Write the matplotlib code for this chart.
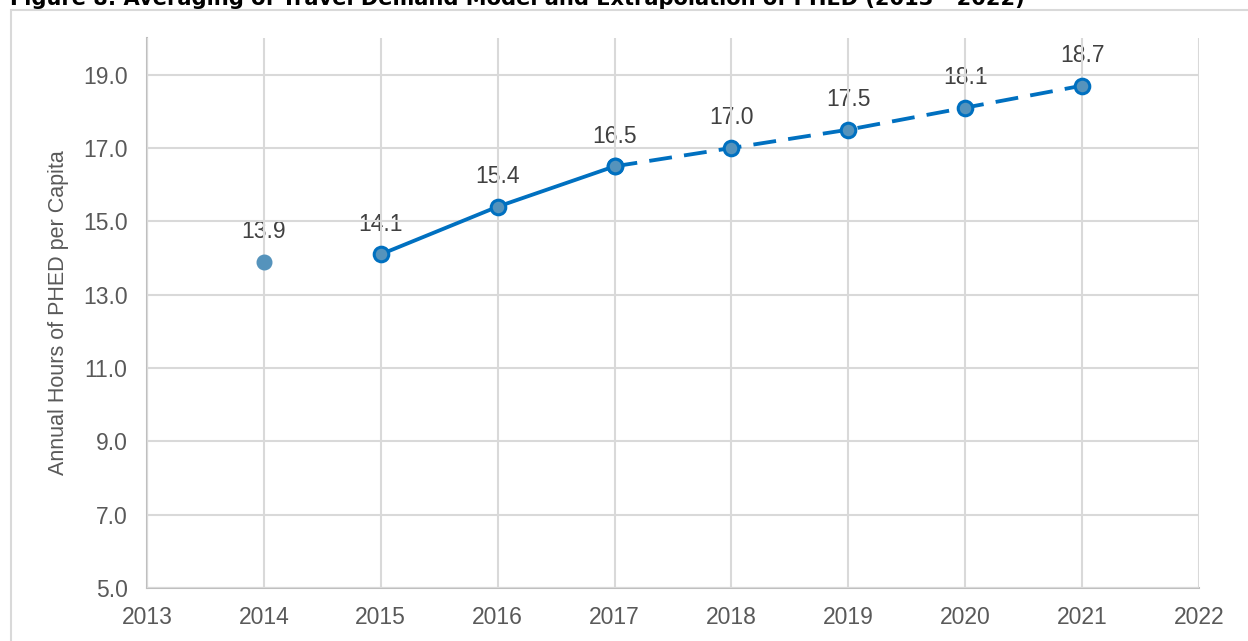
import matplotlib
matplotlib.use('Agg')
import matplotlib.pyplot as plt
from matplotlib.patches import Rectangle

# data
years_model = [2014]
phed_model = [13.9]
years_solid = [2015, 2016, 2017]
phed_solid = [14.1, 15.4, 16.5]
years_extrap = [2017, 2018, 2019, 2020, 2021]
phed_extrap = [16.5, 17.0, 17.5, 18.1, 18.7]
label_years = [2014, 2015, 2016, 2017, 2018, 2019, 2020, 2021]
label_values = [13.9, 14.1, 15.4, 16.5, 17.0, 17.5, 18.1, 18.7]
x_ticks = list(range(2013, 2023))
y_ticks = [5.0, 7.0, 9.0, 11.0, 13.0, 15.0, 17.0, 19.0]

plt.rcParams['font.family'] = ['Liberation Sans', 'DejaVu Sans']

blue = '#0070c0'
fill = '#5593bc'

fig = plt.figure(figsize=(12.48, 6.41), dpi=100, facecolor='white')

# outer chart frame, cut off at right and bottom like the source
fig.patches.append(Rectangle((11 / 1248, -0.05), 1.1, 1 - 10 / 641 + 0.05,
                             transform=fig.transFigure, fill=False,
                             edgecolor='#d9d9d9', linewidth=1.5))

# title sits mostly above the visible area (cropped in the source too)
fig.text(10 / 1248, 1 - 5 / 641, 'Figure 8: Averaging of Travel Demand Model and Extrapolation of PHED (2013 - 2022)',
         fontsize=15.1, fontweight='bold', family='DejaVu Sans', color='black', va='baseline', ha='left')

ax = fig.add_axes([147 / 1248, 1 - 588 / 641, 1052 / 1248, 550 / 641])
ax.set_xlim(2013, 2022)
ax.set_ylim(5, 20)
ax.set_xticks(x_ticks)
ax.set_yticks(y_ticks)
ax.set_xticklabels([str(x) for x in x_ticks])
ax.set_yticklabels(['{:.1f}'.format(y) for y in y_ticks])
ax.tick_params(length=0, labelsize=16.5, labelcolor='#595959')
ax.tick_params(axis='x', pad=13)
ax.tick_params(axis='y', pad=14)

ax.set_axisbelow(False)
ax.grid(True, color='#d9d9d9', linewidth=1.5)
for s in ['top', 'right']:
    ax.spines[s].set_visible(False)
for s in ['left', 'bottom']:
    ax.spines[s].set_color('#bfbfbf')
    ax.spines[s].set_linewidth(1.5)

ax.set_ylabel('Annual Hours of PHED per Capita', fontsize=15.5, color='#595959')
ax.yaxis.set_label_coords(-0.074, 0.5)

ax.plot(years_model, phed_model, linestyle='none', marker='o', markersize=10.5,
        markerfacecolor=fill, markeredgecolor=fill, zorder=4)
ax.plot(years_extrap, phed_extrap, color=blue, linewidth=2.75, linestyle=(0, (6, 3.2)),
        marker='o', markersize=10.5, markerfacecolor=fill, markeredgecolor=blue,
        markeredgewidth=2.2, zorder=4, clip_on=False)
ax.plot(years_solid, phed_solid, color=blue, linewidth=2.75,
        marker='o', markersize=10.5, markerfacecolor=fill, markeredgecolor=blue,
        markeredgewidth=2.2, zorder=5)

# data labels sit under the gridlines, as in the source
for x, y in zip(label_years, label_values):
    ax.annotate('{:.1f}'.format(y), xy=(x, y), xytext=(0, 17), textcoords='offset points',
                ha='center', va='baseline', fontsize=16.5, color='#404040', zorder=1)

fig.savefig('out.png', dpi=100, facecolor='white')
